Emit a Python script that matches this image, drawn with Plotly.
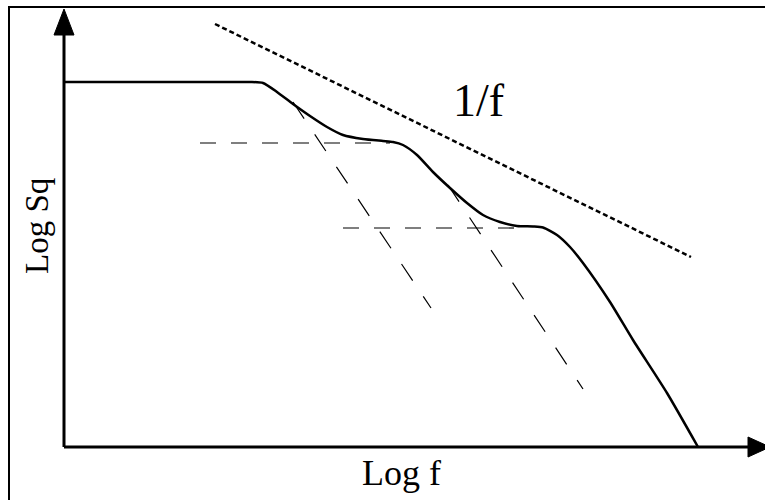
import plotly.graph_objects as go

# Data (axis units: origin at the axes corner)
curve_x = [0, 150, 186, 199, 213, 229, 246, 263, 279, 299, 319, 329, 339, 353, 369, 386,
           403, 419, 436, 453, 469, 479, 493, 506, 519, 546, 569, 603, 634]
curve_y = [365, 365, 365, 364, 355, 343, 331, 320, 312, 308, 306, 305, 302, 292, 275, 259,
           244, 232, 225, 221, 220.5, 219.5, 212, 200, 184, 145, 107, 54, 0]

plateau1_x = [136, 326]
plateau1_y = [304, 304]
plateau2_x = [279, 456]
plateau2_y = [219, 219]
slope1_x = [229, 367]
slope1_y = [345, 139]
slope2_x = [384, 519]
slope2_y = [262, 58]
oneoverf_x = [151, 627]
oneoverf_y = [423, 190]

x_axis_end = 684
y_axis_end = 412

SERIF = "Liberation Serif, Times New Roman, serif"

fig = go.Figure()

fig.add_trace(go.Scatter(x=curve_x, y=curve_y, mode="lines",
                         line=dict(color="black", width=2.5, shape="spline", smoothing=0.6),
                         hoverinfo="skip"))
for xs, ys in [(plateau1_x, plateau1_y), (plateau2_x, plateau2_y)]:
    fig.add_trace(go.Scatter(x=xs, y=ys, mode="lines",
                             line=dict(color="black", width=1.2, dash="16px,15px"), hoverinfo="skip"))
for xs, ys in [(slope1_x, slope1_y), (slope2_x, slope2_y)]:
    fig.add_trace(go.Scatter(x=xs, y=ys, mode="lines",
                             line=dict(color="black", width=1.2, dash="20px,19px"), hoverinfo="skip"))
fig.add_trace(go.Scatter(x=oneoverf_x, y=oneoverf_y, mode="lines",
                         line=dict(color="black", width=2.5, dash="5px,3px"), hoverinfo="skip"))

shapes = [
    # outer frame
    dict(type="rect", x0=-55, x1=720, y0=-70, y1=440, line=dict(color="black", width=2),
         fillcolor="rgba(0,0,0,0)", layer="below"),
    # axes
    dict(type="line", x0=0, y0=0, x1=0, y1=y_axis_end, line=dict(color="black", width=3)),
    dict(type="line", x0=0, y0=0, x1=x_axis_end, y1=0, line=dict(color="black", width=3)),
    # arrow heads
    dict(type="path", path=f"M -10 {y_axis_end} L 10 {y_axis_end} L 0 {y_axis_end + 26} Z",
         fillcolor="black", line=dict(color="black", width=1)),
    dict(type="path", path=f"M {x_axis_end} -10 L {x_axis_end} 10 L {x_axis_end + 22} 0 Z",
         fillcolor="black", line=dict(color="black", width=1)),
]

annotations = [
    dict(x=415, y=347, text="1/f", showarrow=False,
         font=dict(family=SERIF, size=46, color="black")),
    dict(x=337, y=-26, text="Log f", showarrow=False,
         font=dict(family=SERIF, size=36, color="black")),
    dict(x=-27, y=221, text="Log Sq", showarrow=False, textangle=-90,
         font=dict(family=SERIF, size=33, color="black")),
]

fig.update_layout(
    width=765, height=500,
    margin=dict(l=0, r=0, t=0, b=0),
    paper_bgcolor="white", plot_bgcolor="white",
    showlegend=False,
    xaxis=dict(range=[-64, 701], visible=False, fixedrange=True),
    yaxis=dict(range=[-53, 447], visible=False, fixedrange=True),
    shapes=shapes, annotations=annotations,
)

fig.write_html("out.html", config={"displayModeBar": False},
               post_script="document.body.style.margin='0';")
